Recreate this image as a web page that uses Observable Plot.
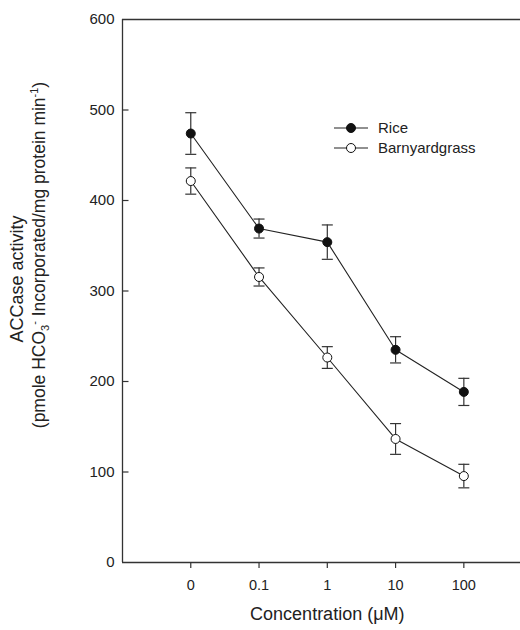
<!DOCTYPE html>
<html><head><meta charset="utf-8">
<script src="https://cdn.jsdelivr.net/npm/d3@7"></script>
<script src="https://cdn.jsdelivr.net/npm/@observablehq/plot@0.6"></script>
<style>body{margin:0;background:#fff}#chart{width:520px;height:630px}</style>
</head><body><div id="chart"></div>
<script>
const concLabels = ["0", "0.1", "1", "10", "100"];
const seriesNames = ["Rice", "Barnyardgrass"];
const riceMean = [474, 369, 354, 235, 188.5];
const riceErr = [23, 10.5, 19, 14.5, 15];
const barnMean = [421.5, 315.5, 226.5, 136.5, 95.5];
const barnErr = [14.5, 10, 12, 17, 13];
const yTicks = [0, 100, 200, 300, 400, 500, 600];

const rows = [];
concLabels.forEach((c, i) => {
  rows.push({series: "Rice", x: i + 1, y: riceMean[i], lo: riceMean[i] - riceErr[i], hi: riceMean[i] + riceErr[i]});
  rows.push({series: "Barnyardgrass", x: i + 1, y: barnMean[i], lo: barnMean[i] - barnErr[i], hi: barnMean[i] + barnErr[i]});
});
const xPos = concLabels.map((c, i) => i + 1);
const midX = (1 + concLabels.length) / 2;

const capSymbol = {draw(ctx) { ctx.moveTo(-5.5, 0); ctx.lineTo(5.5, 0); }};
const inTick = {draw(ctx) { ctx.moveTo(0, 0); ctx.lineTo(6, 0); }};
const ink = "#222";

const chart = Plot.plot({
  width: 520, height: 630,
  marginLeft: 122, marginRight: 0, marginTop: 19, marginBottom: 68,
  style: {fontFamily: "'Liberation Sans', Arial, sans-serif", color: ink, background: "#fff"},
  x: {domain: [0, 5.83]},
  y: {domain: [0, 600]},
  marks: [
    Plot.ruleY([0, 600], {stroke: "#333", strokeWidth: 1.3}),
    Plot.ruleX([0], {stroke: "#333", strokeWidth: 1.3}),
    Plot.dot(yTicks.slice(1, -1), {x: () => 0, y: d => d, symbol: inTick, stroke: "#333", strokeWidth: 1.2, fill: "none"}),
    Plot.axisY({ticks: yTicks, tickSize: 0, tickPadding: 8, fontSize: 15, label: null}),
    Plot.axisX({ticks: xPos, tickFormat: i => concLabels[i - 1], tickSize: 6, tickPadding: 11, fontSize: 14.5, label: null, stroke: "#333", strokeWidth: 1.2}),
    Plot.text(["Concentration (μM)"], {x: () => midX, frameAnchor: "bottom", dy: 57, fontSize: 18, fill: ink}),
    Plot.ruleX(rows, {x: "x", y1: "lo", y2: "hi", stroke: "#333", strokeWidth: 1.2}),
    Plot.dot(rows, {x: "x", y: "lo", symbol: capSymbol, stroke: "#333", strokeWidth: 1.2, fill: "none"}),
    Plot.dot(rows, {x: "x", y: "hi", symbol: capSymbol, stroke: "#333", strokeWidth: 1.2, fill: "none"}),
    Plot.line(rows, {x: "x", y: "y", z: "series", stroke: ink, strokeWidth: 1.1}),
    Plot.dot(rows.filter(d => d.series === "Rice"), {x: "x", y: "y", r: 4.5, fill: "#111", stroke: "#111", strokeWidth: 1}),
    Plot.dot(rows.filter(d => d.series === "Barnyardgrass"), {x: "x", y: "y", r: 4.5, fill: "#fff", stroke: "#111", strokeWidth: 1})
  ]
});
document.getElementById("chart").appendChild(chart);

const svg = d3.select(chart);
const ff = "'Liberation Sans', Arial, sans-serif";
// Y axis title (two lines, with sub/superscripts)
svg.append("text").attr("transform", "translate(23,279) rotate(-90)")
  .attr("text-anchor", "middle").attr("font-size", 18).attr("font-family", ff).attr("fill", ink)
  .text("ACCase activity");
const t2 = svg.append("text").attr("transform", "translate(45,255) rotate(-90)")
  .attr("text-anchor", "middle").attr("font-size", 17.5).attr("font-family", ff).attr("fill", ink);
t2.append("tspan").text("(pmole HCO");
t2.append("tspan").attr("font-size", 11).attr("dy", 4).text("3");
t2.append("tspan").attr("font-size", 11).attr("dy", -11).text("-");
t2.append("tspan").attr("dy", 7).text(" Incorporated/mg protein min");
t2.append("tspan").attr("font-size", 11).attr("dy", -7).text("-1");
t2.append("tspan").attr("dy", 7).text(")");

// Legend
const lg = svg.append("g").attr("font-family", ff).attr("font-size", 15);
seriesNames.forEach((name, i) => {
  const y = 128 + i * 20;
  lg.append("line").attr("x1", 334).attr("x2", 368).attr("y1", y).attr("y2", y)
    .attr("stroke", ink).attr("stroke-width", 1.1);
  lg.append("circle").attr("cx", 351).attr("cy", y).attr("r", 4.5)
    .attr("fill", i === 0 ? "#111" : "#fff").attr("stroke", "#111");
  lg.append("text").attr("x", 378).attr("y", y).attr("dy", "0.35em")
    .attr("text-anchor", "start").attr("fill", ink).text(name);
});
</script></body></html>
